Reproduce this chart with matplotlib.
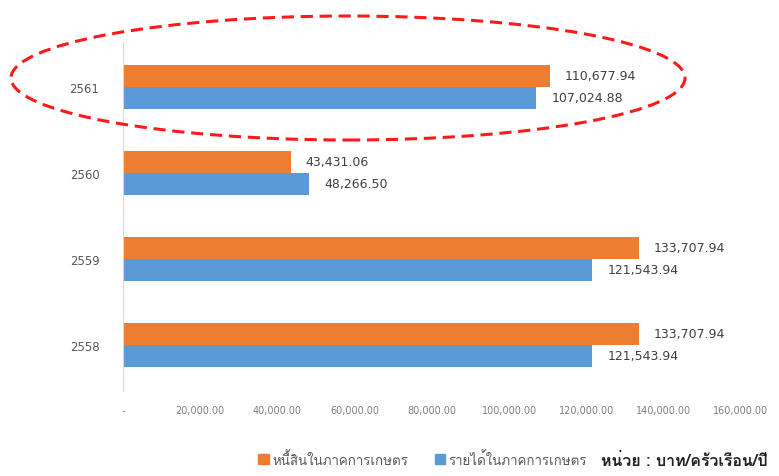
import numpy as np
import matplotlib
matplotlib.use("Agg")
import matplotlib.pyplot as plt
from matplotlib import font_manager
from matplotlib.ft2font import FT2Font
from matplotlib.patches import Ellipse, Patch

# data
years = ["2558", "2559", "2560", "2561"]
debt = [133707.94, 133707.94, 43431.06, 110677.94]
income = [121543.94, 121543.94, 48266.50, 107024.88]
debt_lbl = ["133,707.94", "133,707.94", "43,431.06", "110,677.94"]
income_lbl = ["121,543.94", "121,543.94", "48,266.50", "107,024.88"]
xticks = [0, 20000, 40000, 60000, 80000, 100000, 120000, 140000, 160000]
xtick_lbl = ["-", "20,000.00", "40,000.00", "60,000.00", "80,000.00",
             "100,000.00", "120,000.00", "140,000.00", "160,000.00"]
legend_names = ["หนี้สินในภาคการเกษตร", "รายได้ในภาคการเกษตร"]
unit_text = "หน่วย : บาท/ครัวเรือน/ปี"

# look for any installed font that has Thai glyphs
thai_font = None
for f in font_manager.fontManager.ttflist:
    try:
        if 0x0E2B in FT2Font(f.fname).get_charmap():
            thai_font = f.name
            break
    except Exception:
        pass
fams = [thai_font, "DejaVu Sans"] if thai_font else ["DejaVu Sans"]

orange = "#ED7D31"
blue = "#5B9BD5"

fig = plt.figure(figsize=(7.79, 4.77), dpi=100)
ax = fig.add_axes([123/779, 85/477, (741-123)/779, (434-85)/477])

y = np.arange(len(years))
h = 0.256
ax.barh(y + h/2, debt, height=h, color=orange)
ax.barh(y - h/2, income, height=h, color=blue)

for i in range(len(years)):
    ax.annotate(debt_lbl[i], (debt[i], y[i] + h/2), xytext=(10.5, 0), textcoords="offset points",
                va="center", ha="left", fontsize=9, color="#404040")
    ax.annotate(income_lbl[i], (income[i], y[i] - h/2), xytext=(11, 0), textcoords="offset points",
                va="center", ha="left", fontsize=9, color="#404040")

ax.set_xlim(0, 160000)
ax.set_ylim(-0.535, 3.52)
ax.set_yticks(y)
ax.set_yticklabels(years, fontsize=8.5, color="#595959")
ax.set_xticks(xticks)
ax.set_xticklabels(xtick_lbl, fontsize=7, color="#808080")
ax.tick_params(axis="y", length=0, pad=17)
ax.tick_params(axis="x", length=0, pad=10)
for s in ["top", "right", "bottom"]:
    ax.spines[s].set_visible(False)
ax.spines["left"].set_color("#d9d9d9")

# red dashed ellipse around 2561
ell = Ellipse((348/779, 1 - 79/477), 674/779, 124/477, transform=fig.transFigure,
              fill=False, edgecolor="#ff1a1a", lw=2.2, linestyle=(0, (4, 2.2)))
fig.patches.append(ell)

handles = [Patch(color=orange), Patch(color=blue)]
fig.legend(handles, legend_names, loc="center left", bbox_to_anchor=(258/779, 1 - 460/477),
           ncol=2, frameon=False, handlelength=0.8, handleheight=0.8, handletextpad=0.25,
           columnspacing=2.0, borderpad=0, borderaxespad=0,
           prop={"family": fams, "size": 9.6}, labelcolor="#595959")
fig.text(601/779, 1 - 461/477, unit_text, ha="left", va="center", fontsize=11.5,
         fontweight="bold", family=fams, color="#222222")

fig.savefig("out.png", dpi=100, facecolor="white")
